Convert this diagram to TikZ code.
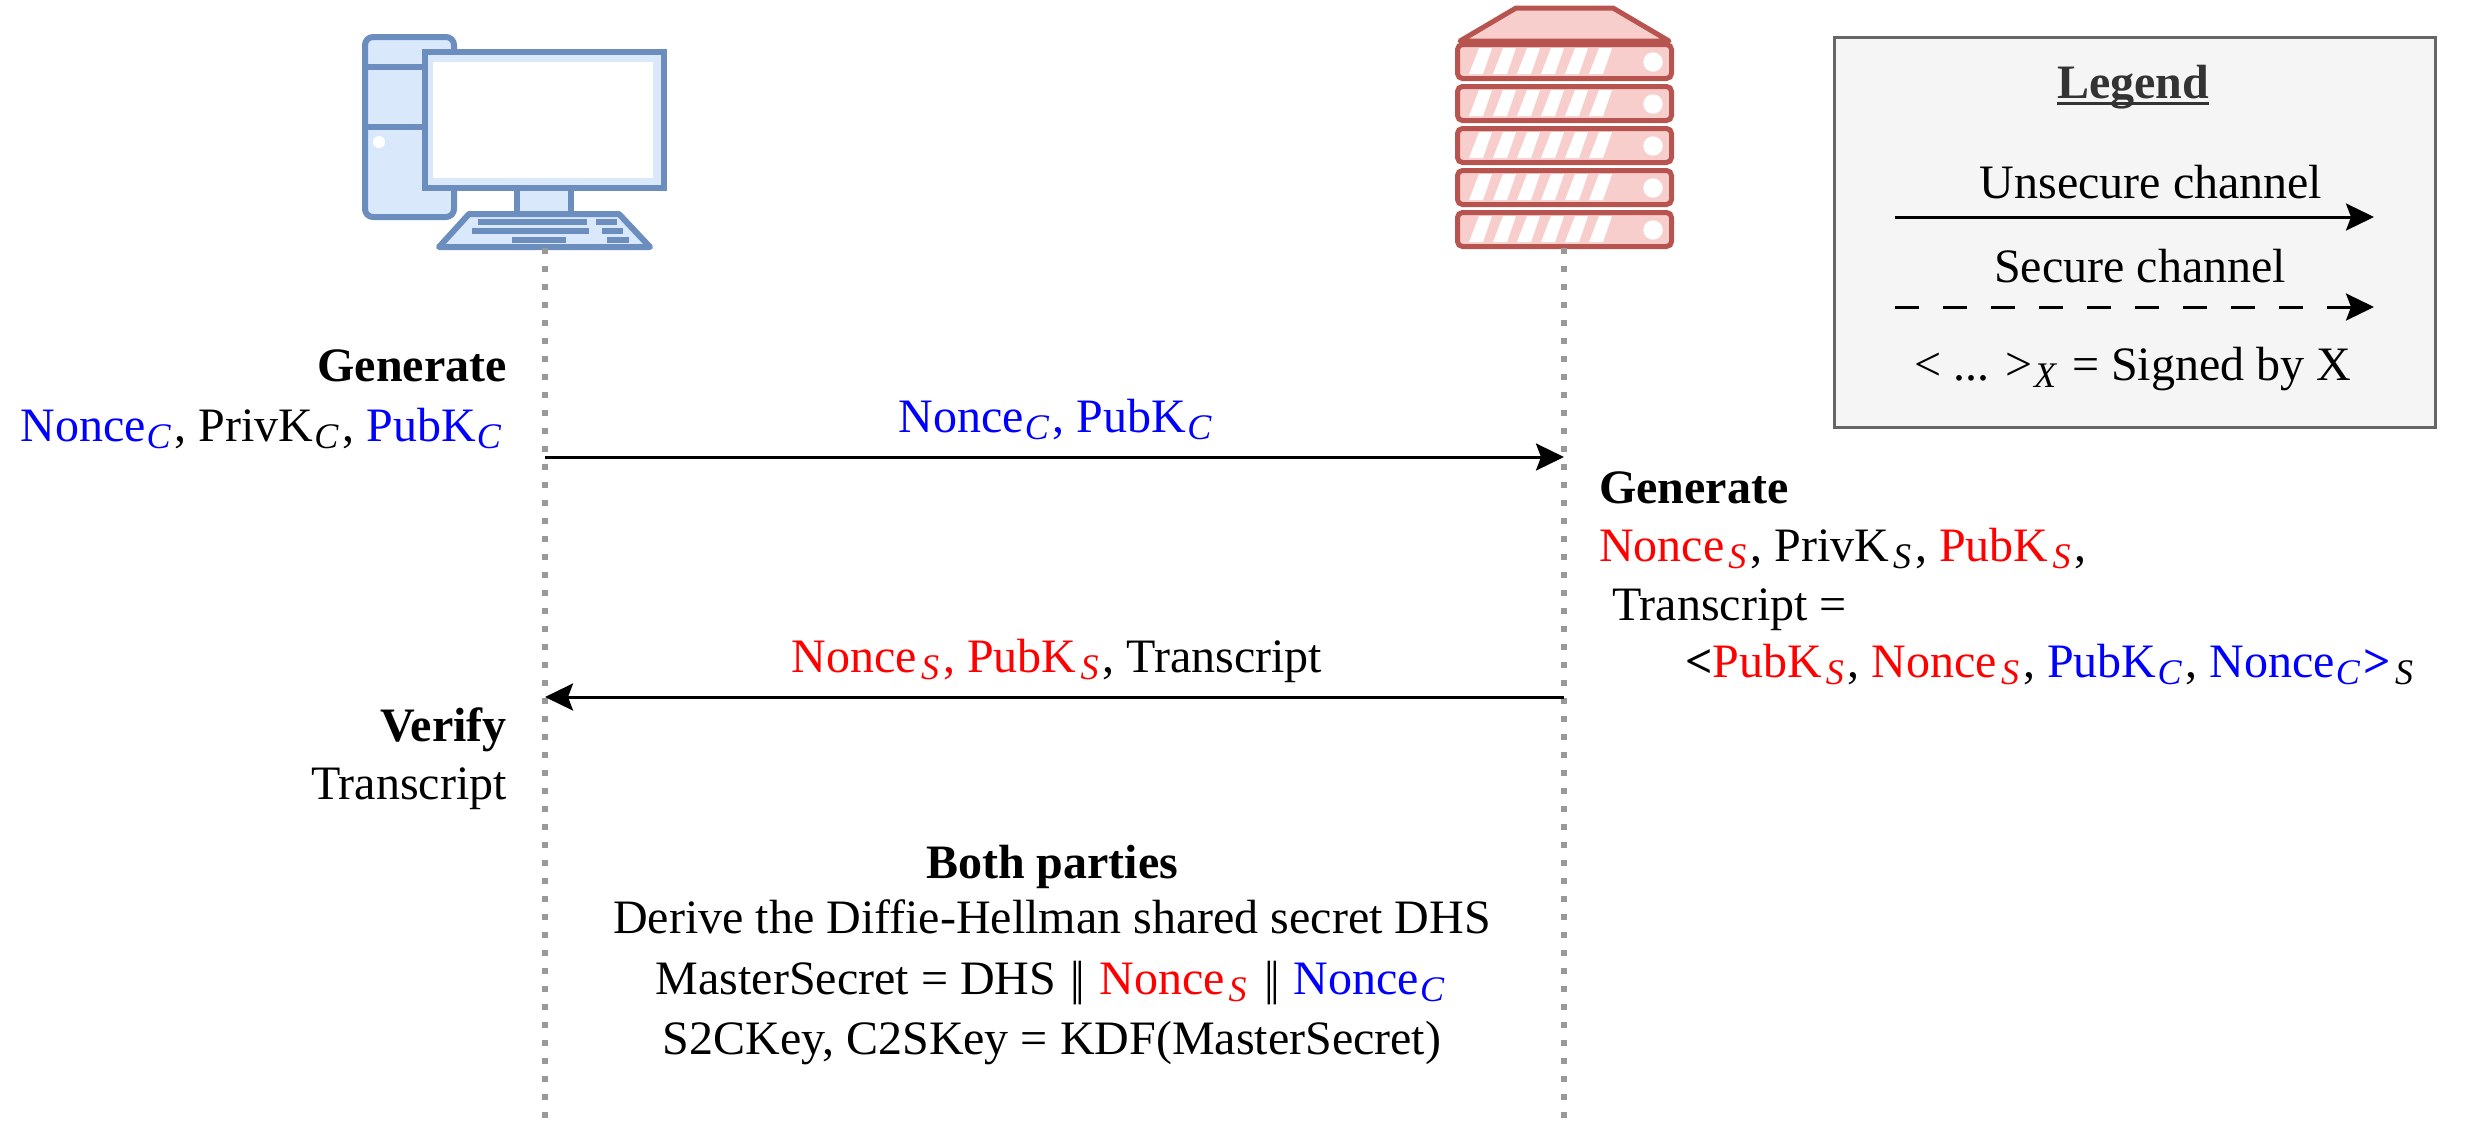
\documentclass[tikz,border=0pt]{standalone}
\usepackage{fontspec}
\setmainfont{Liberation Serif}
\usetikzlibrary{arrows.meta}
\definecolor{clientline}{HTML}{6C8EBF}
\definecolor{clientfill}{HTML}{DAE8FC}
\definecolor{serverline}{HTML}{B85450}
\definecolor{serverfill}{HTML}{F8CECC}
\definecolor{nonceblue}{HTML}{0000FF}
\definecolor{noncered}{HTML}{FF0000}
\newcommand{\blu}[1]{\textcolor{nonceblue}{#1}}
\newcommand{\rd}[1]{\textcolor{noncered}{#1}}
\newcommand{\subx}[1]{\hspace{1pt}\raisebox{-7pt}{\fontsize{36}{36}\selectfont\itshape #1}\hspace{4pt}}
\newcommand{\subs}{\hspace{3pt}\subx{S}}
\newcommand{\ulbar}[1]{\setbox0\hbox{#1}\rlap{\rule[-7pt]{\wd0}{3.5pt}}\box0}
\newcommand{\dbar}{\hspace{2pt}|\hspace{-4pt}|\hspace{2pt}}
\tikzset{
  lbl/.style={inner sep=0pt, anchor=base, font=\fontsize{48}{58}\selectfont},
  lblr/.style={lbl, anchor=base east},
  lbll/.style={lbl, anchor=base west},
  lifeline/.style={line width=6pt, color=black!40, dash pattern=on 6pt off 12pt},
  msg/.style={line width=3pt, -{Stealth[length=28pt,width=27pt,inset=5pt]}},
  pc/.style={line width=6pt, draw=clientline, fill=clientfill},
  srv/.style={line width=5pt, draw=serverline, fill=serverfill, rounded corners=5pt}
}
\begin{document}
\begin{tikzpicture}[x=1pt,y=-1pt]
\useasboundingbox (0,0) rectangle (2466,1125);

% client computer
\draw[pc, rounded corners=8pt] (365,37) rectangle (454,217);
\draw[pc] (365,67) -- (425,67);
\draw[pc] (365,127) -- (425,127);
\fill[white] (379,142) circle (6);
\draw[pc] (517,188) rectangle (571,214);
\draw[pc] (425,52) rectangle (664,188);
\fill[white] (433,62) rectangle (653,178);
\draw[pc, line join=round] (469,214) -- (619,214) -- (650,247) -- (439,247) -- cycle;
\fill[clientline] (478,219) rectangle (587,225);
\fill[clientline] (596,219) rectangle (617,225);
\fill[clientline] (472,228) rectangle (589,234);
\fill[clientline] (602,228) rectangle (623,234);
\fill[clientline] (512,237) rectangle (566,243);
\fill[clientline] (607,237) rectangle (629,243);

% server rack
\draw[line width=5pt, draw=serverline, fill=serverfill, line join=round] (1516,8) -- (1613,8) -- (1669,41) -- (1460,41) -- cycle;
\foreach \y in {42,84,126,168,210} {
  \draw[srv] (1457.5,\y+2.5) rectangle (1671.5,\y+36.5);
  \foreach \s in {0,...,5}
    \fill[white] (1469+24*\s,\y+32) -- (1479+24*\s,\y+6) -- (1492+24*\s,\y+6) -- (1483+24*\s,\y+32) -- cycle;
  \fill[white] (1653,\y+20) circle (9.7);
}

% lifelines
\coordinate (clienttop) at (545,248);
\coordinate (clientend) at (545,1125);
\coordinate (servertop) at (1564,248);
\coordinate (serverend) at (1564,1125);
\draw[lifeline] (clienttop) -- (clientend);
\draw[lifeline] (servertop) -- (serverend);

% messages
\coordinate (hello1) at (545,457);
\coordinate (hello2) at (1564,457);
\coordinate (reply1) at (1564,697);
\coordinate (reply2) at (545,697);
\draw[msg] (hello1) -- (hello2);
\draw[msg] (reply1) -- (reply2);
\node[lbl] (hellolabel) at (1057,432) {\blu{Nonce\subx{C}, PubK\subx{C}}};
\node[lbl] (replylabel) at (1057,672) {\rd{Nonce\subs, PubK\subs}, Transcript};

% client side
\node[lblr] (clientgen) at (507,381) {\textbf{Generate}};
\node[lblr] (clientkeys) at (505,441) {\blu{Nonce\subx{C}}, PrivK\subx{C}, \blu{PubK\subx{C}}};
\node[lblr] (verify) at (507,741) {\textbf{Verify}};
\node[lblr] (verifytr) at (507,799) {Transcript};

% server side
\node[lbll] (servergen) at (1599,503) {\textbf{Generate}};
\node[lbll] (serverkeys) at (1599,561) {\rd{Nonce\subs}, PrivK\subs, \rd{PubK\subs},};
\node[lbll] (servertr) at (1612,620) {Transcript =};
\node[lbll] (serversig) at (1685,677) {\textbf{<}\rd{PubK\subs}, \rd{Nonce\subs}, \blu{PubK\subx{C}}, \blu{Nonce\subx{C}\textbf{>}}\subs};

% shared secret
\node[lbl] (both) at (1052,878) {\textbf{Both parties}};
\node[lbl] (derive) at (1052,933) {Derive the Diffie-Hellman shared secret DHS};
\node[lbl] (master) at (1052,994) {MasterSecret = DHS \dbar{} \rd{Nonce\subs} \dbar{} \blu{Nonce\subx{C}}};
\node[lbl] (kdf) at (1052,1054) {S2CKey, C2SKey = KDF(MasterSecret)};

% legend
\draw[line width=3pt, draw=black!60, fill=black!4] (1834,37) rectangle (2435,427);
\node[lbl, text=black!80] (legend) at (2133,98) {\ulbar{\textbf{Legend}}};
\coordinate (plain1) at (1895,217);
\coordinate (plain2) at (2374,217);
\coordinate (dash1) at (1895,307);
\coordinate (dash2) at (2374,307);
\draw[msg] (plain1) -- (plain2);
\draw[msg, dash pattern=on 24pt off 24pt] (dash1) -- (dash2);
\node[lbl] (unsecure) at (2151,198) {Unsecure channel};
\node[lbl] (secure) at (2140,282) {Secure channel};
\node[lbl] (signed) at (2133,380) {< ... >\subx{X} = Signed by X};
\end{tikzpicture}
\end{document}
